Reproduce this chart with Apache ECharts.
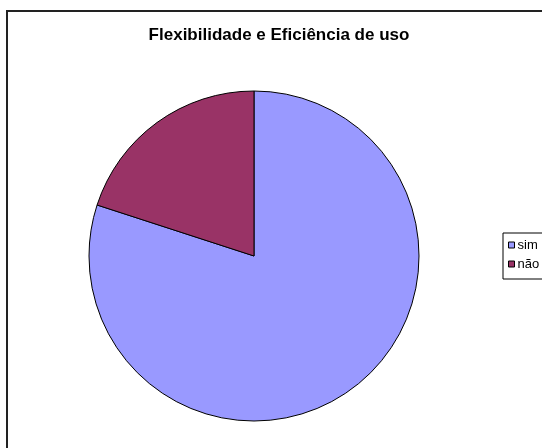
<!DOCTYPE html>
<html>
<head>
<meta charset="utf-8">
<script src="https://cdn.jsdelivr.net/npm/echarts@6/dist/echarts.min.js"></script>
<style>
  html, body { margin: 0; padding: 0; background: #fff; }
  #chart { width: 542px; height: 448px; }
</style>
</head>
<body>
<div id="chart"></div>
<script>
// Answers for "Flexibilidade e Eficiência de uso"
const categories = ['sim', 'não'];
const values = [80, 20];
const colors = ['#9999FF', '#993366'];

const chart = echarts.init(document.getElementById('chart'), null, { renderer: 'canvas' });

chart.setOption({
  backgroundColor: '#ffffff',
  animation: false,
  title: {
    text: 'Flexibilidade e Eficiência de uso',
    left: 279,
    top: 27,
    padding: 0,
    textAlign: 'center',
    textStyle: {
      fontFamily: 'Liberation Sans, Arial, sans-serif',
      fontSize: 17,
      fontWeight: 'bold',
      color: '#000'
    }
  },
  legend: {
    orient: 'vertical',
    left: 503,
    top: 233,
    padding: [5, 30, 8, 5],
    itemGap: 5,
    itemWidth: 6,
    itemHeight: 6,
    icon: 'rect',
    borderColor: '#000',
    borderWidth: 1,
    itemStyle: { borderColor: '#000', borderWidth: 1 },
    textStyle: {
      fontFamily: 'Liberation Sans, Arial, sans-serif',
      fontSize: 13,
      lineHeight: 14,
      color: '#000',
      padding: [0, 0, 0, -2]
    },
    data: categories
  },
  graphic: [
    {
      type: 'polyline',
      shape: { points: [[7, 460], [7, 11], [560, 11]] },
      style: { stroke: '#222', lineWidth: 2, fill: null },
      silent: true
    }
  ],
  series: [{
    type: 'pie',
    center: [254, 256],
    radius: 165,
    startAngle: 90,
    clockwise: true,
    label: { show: false },
    labelLine: { show: false },
    itemStyle: { borderColor: '#000', borderWidth: 1 },
    emphasis: { disabled: true },
    data: categories.map((name, i) => ({
      name: name,
      value: values[i],
      itemStyle: { color: colors[i] }
    }))
  }]
});
</script>
</body>
</html>
